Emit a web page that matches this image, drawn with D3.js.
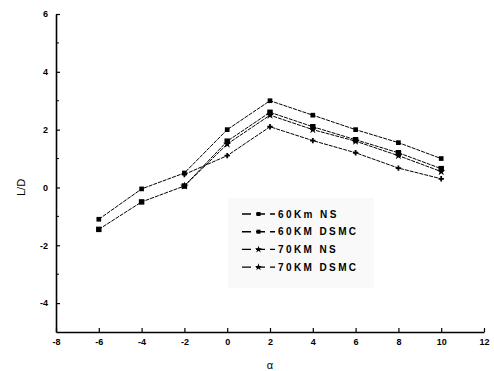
<!DOCTYPE html>
<html>
<head>
<meta charset="utf-8">
<script src="https://cdn.jsdelivr.net/npm/d3@7"></script>
<style>
  body { margin: 0; background: #fff; }
  svg text { font-family: "Liberation Sans", Arial, sans-serif; fill: #000; }
</style>
</head>
<body>
<div id="chart"></div>
<script>
// values
const alpha60 = [-6, -4, -2, 0, 2, 4, 6, 8, 10];
const alpha70 = [-2, 0, 2, 4, 6, 8, 10];
const ns60   = [-1.1, -0.05, 0.5, 2.0, 3.0, 2.5, 2.0, 1.55, 1.0];
const dsmc60 = [-1.45, -0.5, 0.05, 1.6, 2.6, 2.1, 1.65, 1.2, 0.65];
const ns70   = [0.05, 1.5, 2.5, 2.0, 1.6, 1.1, 0.55];
const dsmc70 = [0.45, 1.1, 2.1, 1.62, 1.2, 0.67, 0.3];
const seriesNames = ["60Km NS", "60KM DSMC", "70KM NS", "70KM DSMC"];
const xTicks = [-8, -6, -4, -2, 0, 2, 4, 6, 8, 10, 12];
const yTicks = [-4, -2, 0, 2, 4, 6];

const width = 494, height = 371;
const svg = d3.select("#chart").append("svg")
  .attr("width", width).attr("height", height);

const x = d3.scaleLinear().domain([-8, 12]).range([56, 484]);
const y = d3.scaleLinear().domain([-5, 6]).range([332, 14]);

// axes, ticks pointing in
const gx = svg.append("g").attr("transform", "translate(0," + y(-5) + ")")
  .call(d3.axisBottom(x).tickValues(xTicks).tickFormat(d => String(d))
    .tickSizeInner(-4).tickSizeOuter(0).tickPadding(7));
const gy = svg.append("g").attr("transform", "translate(" + x(-8) + ",0)")
  .call(d3.axisLeft(y).tickValues(yTicks).tickFormat(d => String(d))
    .tickSizeInner(-4).tickSizeOuter(0).tickPadding(8));
[gx, gy].forEach(g => {
  g.select(".domain").attr("stroke", "#000").attr("stroke-width", 1.6);
  g.selectAll(".tick line").attr("stroke", "#000").attr("stroke-width", 1.2);
  g.selectAll(".tick text").style("font-size", "9px").style("font-weight", "bold");
});
// minor ticks on y
svg.append("g").selectAll("line")
  .data([-3, -1, 1, 3, 5])
  .enter().append("line")
  .attr("x1", x(-8)).attr("x2", x(-8) + 3)
  .attr("y1", d => y(d)).attr("y2", d => y(d))
  .attr("stroke", "#000").attr("stroke-width", 1);

svg.append("text").attr("transform", "translate(25," + y(0) + ") rotate(-90)")
  .attr("text-anchor", "middle").style("font-size", "11px").text("L/D");
svg.append("text").attr("x", x(2)).attr("y", 369)
  .attr("text-anchor", "middle").style("font-size", "11px").text("α");

const series = [
  { name: seriesNames[0], xs: alpha60, ys: ns60, sym: d3.symbolSquare, size: 22 },
  { name: seriesNames[1], xs: alpha60, ys: dsmc60, sym: d3.symbolSquare, size: 30 },
  { name: seriesNames[2], xs: alpha70, ys: ns70, sym: d3.symbolStar, size: 22 },
  { name: seriesNames[3], xs: alpha70, ys: dsmc70, sym: d3.symbolCross, size: 16 }
];

const line = d3.line().x(d => x(d[0])).y(d => y(d[1]));

series.forEach(s => {
  const pts = s.xs.map((v, i) => [v, s.ys[i]]);
  svg.append("path").datum(pts)
    .attr("d", line).attr("fill", "none")
    .attr("stroke", "#000").attr("stroke-width", 1)
    .attr("stroke-dasharray", "4,1");
  svg.append("g").selectAll("path")
    .data(pts).enter().append("path")
    .attr("transform", d => "translate(" + x(d[0]) + "," + y(d[1]) + ")")
    .attr("d", d3.symbol().type(s.sym).size(s.size))
    .attr("fill", "#000");
});

// legend
const lg = svg.append("g");
lg.append("rect").attr("x", 228).attr("y", 198).attr("width", 146).attr("height", 90)
  .attr("fill", "#f9f9f9");
series.forEach((s, i) => {
  const yy = 214 + i * 17.7;
  lg.append("line").attr("x1", 242).attr("x2", 275).attr("y1", yy).attr("y2", yy)
    .attr("stroke", "#000").attr("stroke-width", 1.4).attr("stroke-dasharray", "9,5");
  lg.append("path").attr("transform", "translate(258.5," + yy + ")")
    .attr("d", d3.symbol().type(i < 2 ? d3.symbolSquare : d3.symbolStar).size(16))
    .attr("fill", "#000");
  lg.append("text").attr("x", 278).attr("y", yy + 3.5)
    .style("font-size", "10px").style("font-weight", "bold")
    .style("letter-spacing", "2.4px").text(s.name);
});
</script>
</body>
</html>
